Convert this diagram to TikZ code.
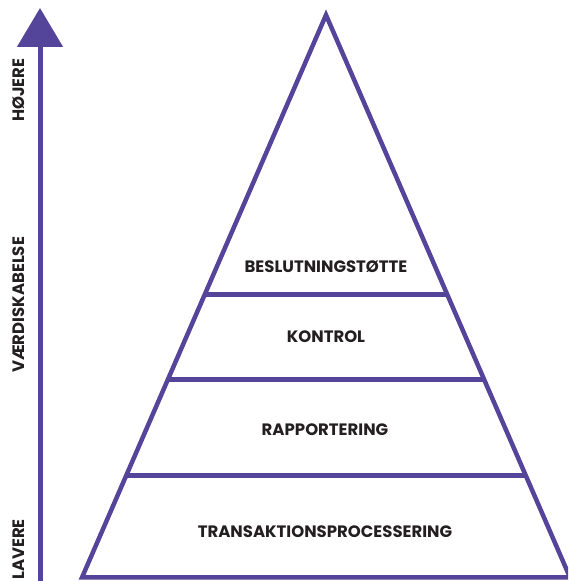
\documentclass[tikz,border=0pt]{standalone}
\usepackage{fontspec}
\setmainfont{Poppins}
\usepackage{tikz}
\usetikzlibrary{positioning,calc,arrows.meta}
\definecolor{lilla}{HTML}{55459A}
\definecolor{tekst}{HTML}{231F20}

\begin{document}
\begin{tikzpicture}[x=1pt,y=1pt,
  lag/.style={draw=lilla, line width=4.5pt},
  niveau/.style={text=tekst, font=\bfseries\fontsize{16.5}{18}\selectfont},
  akse/.style={text=tekst, rotate=90, font=\bfseries\fontsize{16.5}{18}\selectfont}]
  \useasboundingbox (0,0) rectangle (568,581);
  \clip (0,0) rectangle (568,581);
  % pyramiden
  \coordinate (top) at (326,566);
  \coordinate (vb) at (82,3.5);
  \coordinate (hb) at (570,3.5);
  \draw[lag, line join=miter] (vb) -- (top) -- (hb) -- cycle;
  \draw[lag] ($(top)!0.497!(vb)$) -- ($(top)!0.497!(hb)$);
  \draw[lag] ($(top)!0.648!(vb)$) -- ($(top)!0.648!(hb)$);
  \draw[lag] ($(top)!0.819!(vb)$) -- ($(top)!0.819!(hb)$);
  \node[niveau] (beslut) at (326,314) {BESLUTNINGSTØTTE};
  \node[niveau] (kontrol) at (326,244) {KONTROL};
  \node[niveau] (rapport) at (325,151) {RAPPORTERING};
  \node[niveau] (trans) at (325,49) {TRANSAKTIONSPROCESSERING};
  % aksen
  \coordinate (bund) at (40,-2);
  \coordinate (spids) at (40,573);
  \draw[lilla, line width=5pt, -{Triangle[width=45pt,length=39pt]}] (bund) -- (spids);
  \node[akse] (hoejere) at (19,491) {HØJERE};
  \node[akse] (vaerdi) at (19,276) {VÆRDISKABELSE};
  \node[akse, anchor=west, inner sep=0pt] (lavere) at (19,1) {LAVERE};
\end{tikzpicture}
\end{document}
